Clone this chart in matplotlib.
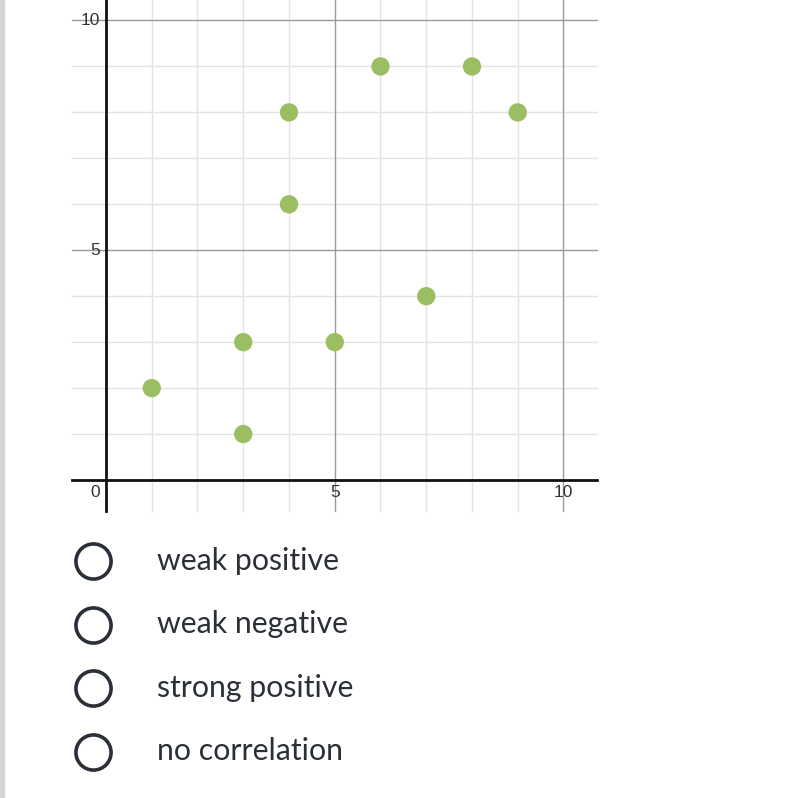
import matplotlib
matplotlib.use("Agg")
import matplotlib.pyplot as plt
from matplotlib.patches import Rectangle

x_vals = [1, 3, 3, 4, 4, 5, 6, 7, 8, 9]
y_vals = [2, 1, 3, 6, 8, 3, 9, 4, 9, 8]
major_ticks = [5, 10]
minor_ticks = [1, 2, 3, 4, 6, 7, 8, 9]
options = ["weak positive", "weak negative", "strong positive", "no correlation"]

W, H = 800, 798
fig = plt.figure(figsize=(W / 100, H / 100), dpi=100)
ax = fig.add_axes([0, 0, 1, 1])
ax.set_axis_off()

# data -> pixel mapping
x0px, y0px = 106, 480
sx, sy = 45.75, 45.95
ax.set_xlim(-x0px / sx, (W - x0px) / sx)
ax.set_ylim(-(H - y0px) / sy, y0px / sy)

xl, xr = (72 - x0px) / sx, (597 - x0px) / sx
yb, yt = -(511 - y0px) / sy, 10.5

# left strip
fig.patches.append(Rectangle((0, 0), 4 / W, 1, transform=fig.transFigure,
                             color="#d4d4da", zorder=0))

# grid
for t in minor_ticks:
    ax.plot([xl, xr], [t, t], color="#e3e3e3", lw=1, zorder=1)
    ax.plot([t, t], [yb, yt], color="#e3e3e3", lw=1, zorder=1)
for t in major_ticks:
    ax.plot([xl, xr], [t, t], color="#9a9a9a", lw=1, zorder=2)
    ax.plot([t, t], [yb, yt], color="#9a9a9a", lw=1, zorder=2)

# axes
ax.plot([xl, xr], [0, 0], color="#111111", lw=2, zorder=3)
ax.plot([0, 0], [yb, yt], color="#111111", lw=2, zorder=3)

# tick labels
tick_font = dict(family="Liberation Sans", fontsize=12.5, color="#333333", zorder=4)
for t in major_ticks:
    ax.text(t, -0.28, str(t), ha="center", va="center", **tick_font)
    ax.text(-0.13, t, str(t), ha="right", va="center", **tick_font)
ax.text(-0.13, -0.28, "0", ha="right", va="center", **tick_font)

# points
ax.scatter(x_vals, y_vals, s=175, color="#9cbe63", edgecolors="none", zorder=5)

# options
for i, label in enumerate(options):
    ypx = 561 + i * 63.5
    yfig = 1 - ypx / H
    ax.scatter([(93 - x0px) / sx], [(y0px - ypx) / sy], s=640, facecolors="white",
               edgecolors="#2b3038", linewidths=2.6, zorder=5)
    fig.text(157 / W, yfig, label, fontsize=21.8, family="Lato", color="#2b3038",
             ha="left", va="center")

fig.savefig("out.png", dpi=100)
